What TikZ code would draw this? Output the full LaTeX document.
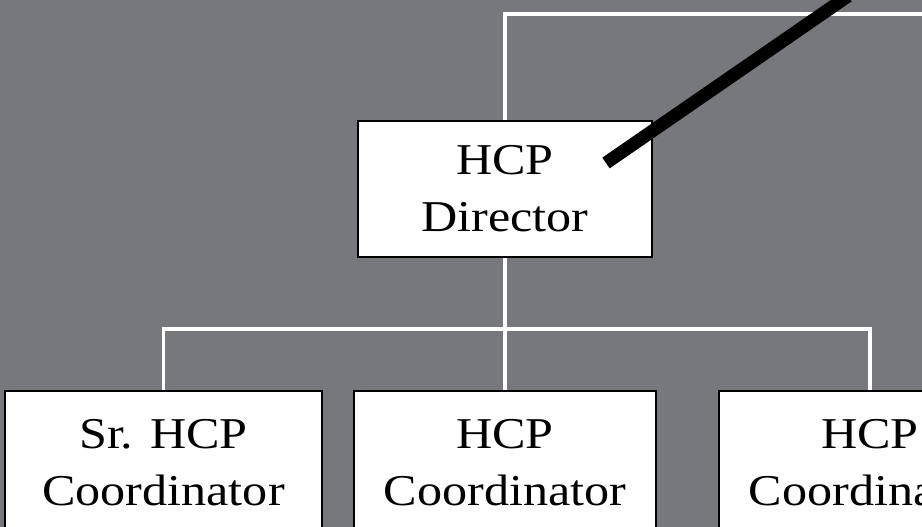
\documentclass[tikz,border=0pt]{standalone}
\usepackage{fontspec}
\setmainfont{Liberation Serif}[FakeStretch=1.14]
\usetikzlibrary{positioning}
\definecolor{slate}{RGB}{119,120,124}
\begin{document}
\begin{tikzpicture}[x=1pt,y=-1pt]
        \tikzstyle{post}=[draw=black,line width=1.8pt,fill=white,align=center,inner sep=0pt,font=\fontsize{44}{57}\selectfont]
        \tikzstyle{edge}=[draw=white,line width=3.5pt]
        \useasboundingbox (0,0) rectangle (922,527);
        \fill[slate] (0,0) rectangle (922,527);
        \clip (0,0) rectangle (922,527);
       \begin{scope}
         \node [post,minimum width=294pt,minimum height=136pt] (dir) at (505,189) {HCP\\Director};
         \node [post,minimum width=317pt,minimum height=143pt] (c1) at (163.5,462.5) {Sr. HCP\\Coordinator};
         \node [post,minimum width=302pt,minimum height=143pt] (c2) at (505,462.5) {HCP\\Coordinator};
         \node [post,minimum width=302pt,minimum height=143pt] (c3) at (870,462.5) {HCP\\Coordinator};
         \coordinate (topr) at (930,14);
         \coordinate (bar) at (505,329);
         \coordinate (pen) at (848,-4);
         \coordinate (tip) at (606,163);
         \path[edge] (dir.north) |- (topr);
         \path[edge] (dir.south) -- (c2.north);
         \path[edge] (c1.north) |- (bar) -| (c3.north);
         \draw[line width=13pt] (pen) -- (tip);
        \end{scope}
      \end{tikzpicture}
\end{document}
